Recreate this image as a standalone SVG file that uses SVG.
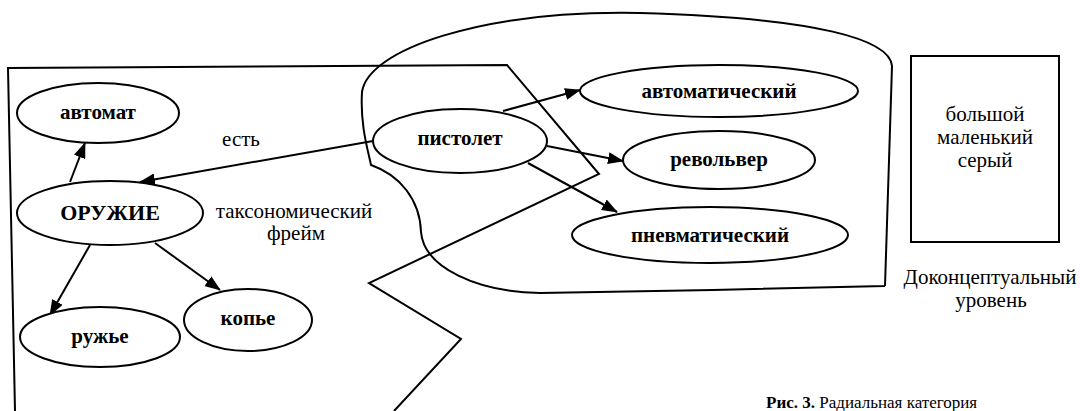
<svg xmlns="http://www.w3.org/2000/svg" width="1080" height="411" viewBox="0 0 1080 411">
<style>
.s{fill:none;stroke:#000;stroke-width:2;stroke-linejoin:miter}
.n{fill:#fff;stroke:#000;stroke-width:2}
text{font-family:'Liberation Serif','DejaVu Serif','Times New Roman',serif;fill:#000}
.b{font-weight:bold;font-size:21px;text-anchor:middle}
.t{font-size:21px;text-anchor:middle}
.c{stroke:#000;stroke-width:2;fill:none;marker-end:url(#ah)}
</style>
<defs>
<marker id="ah" markerUnits="userSpaceOnUse" markerWidth="16" markerHeight="12" refX="15" refY="6" orient="auto">
<path d="M0,0 L16,6 L0,12 Z" fill="#000"/>
</marker>
</defs>
<rect width="1080" height="411" fill="#fff"/>
<g id="frames">
<path class="s" d="M15 411 L8 68 L507 65 L599 174 L369 283 L461 339 L394 411"/>
<path class="s" d="M885 286 L892 66 C890 40 820 18 640 13 C480 10 368 50 362 92 C360 125 368 150 371 165 C400 175 420 200 421 232 C424 268 478 292 540 293 L713 290 L885 286"/>
<rect class="s" x="911" y="56" width="148" height="186"/>
</g>
<g id="connectors">
<line class="c" x1="70" y1="182" x2="85" y2="143"/>
<line class="c" x1="373" y1="141" x2="140" y2="182"/>
<line class="c" x1="90" y1="245" x2="50" y2="315"/>
<line class="c" x1="155" y1="243" x2="220" y2="290"/>
<line class="c" x1="503" y1="111" x2="580" y2="90"/>
<line class="c" x1="547" y1="146" x2="623" y2="161"/>
<line class="c" x1="528" y1="163" x2="617" y2="212"/>
</g>
<g id="avtomat"><ellipse class="n" cx="98" cy="113" rx="81" ry="30"/><text class="b" x="98" y="119">автомат</text></g>
<g id="oruzhie"><ellipse class="n" cx="110" cy="213" rx="93" ry="32"/><text class="b" x="110" y="220" style="font-size:22px">ОРУЖИЕ</text></g>
<g id="ruzhye"><ellipse class="n" cx="100" cy="337" rx="80" ry="30"/><text class="b" x="100" y="343">ружье</text></g>
<g id="kopye"><ellipse class="n" cx="248" cy="320" rx="64" ry="31"/><text class="b" x="248" y="325">копье</text></g>
<g id="pistolet"><ellipse class="n" cx="460" cy="141" rx="87" ry="32"/><text class="b" x="460" y="145">пистолет</text></g>
<g id="avtomaticheskiy"><ellipse class="n" cx="719" cy="91" rx="139" ry="26"/><text class="b" x="719" y="98">автоматический</text></g>
<g id="revolver"><ellipse class="n" cx="719" cy="160" rx="96" ry="29"/><text class="b" x="719" y="166">револьвер</text></g>
<g id="pnevmaticheskiy"><ellipse class="n" cx="710" cy="235" rx="138" ry="28"/><text class="b" x="710" y="242">пневматический</text></g>
<g id="labels">
<text class="t" x="241" y="146">есть</text>
<text class="t" x="294" y="218">таксономический</text>
<text class="t" x="296" y="240">фрейм</text>
<text class="t" x="985" y="121">большой</text>
<text class="t" x="985" y="144">маленький</text>
<text class="t" x="985" y="167">серый</text>
<text class="t" x="990" y="284">Доконцептуальный</text>
<text class="t" x="991" y="307">уровень</text>
<text x="766" y="408" style="font-size:17px"><tspan font-weight="bold">Рис. 3.</tspan> Радиальная категория</text>
</g>
</svg>
